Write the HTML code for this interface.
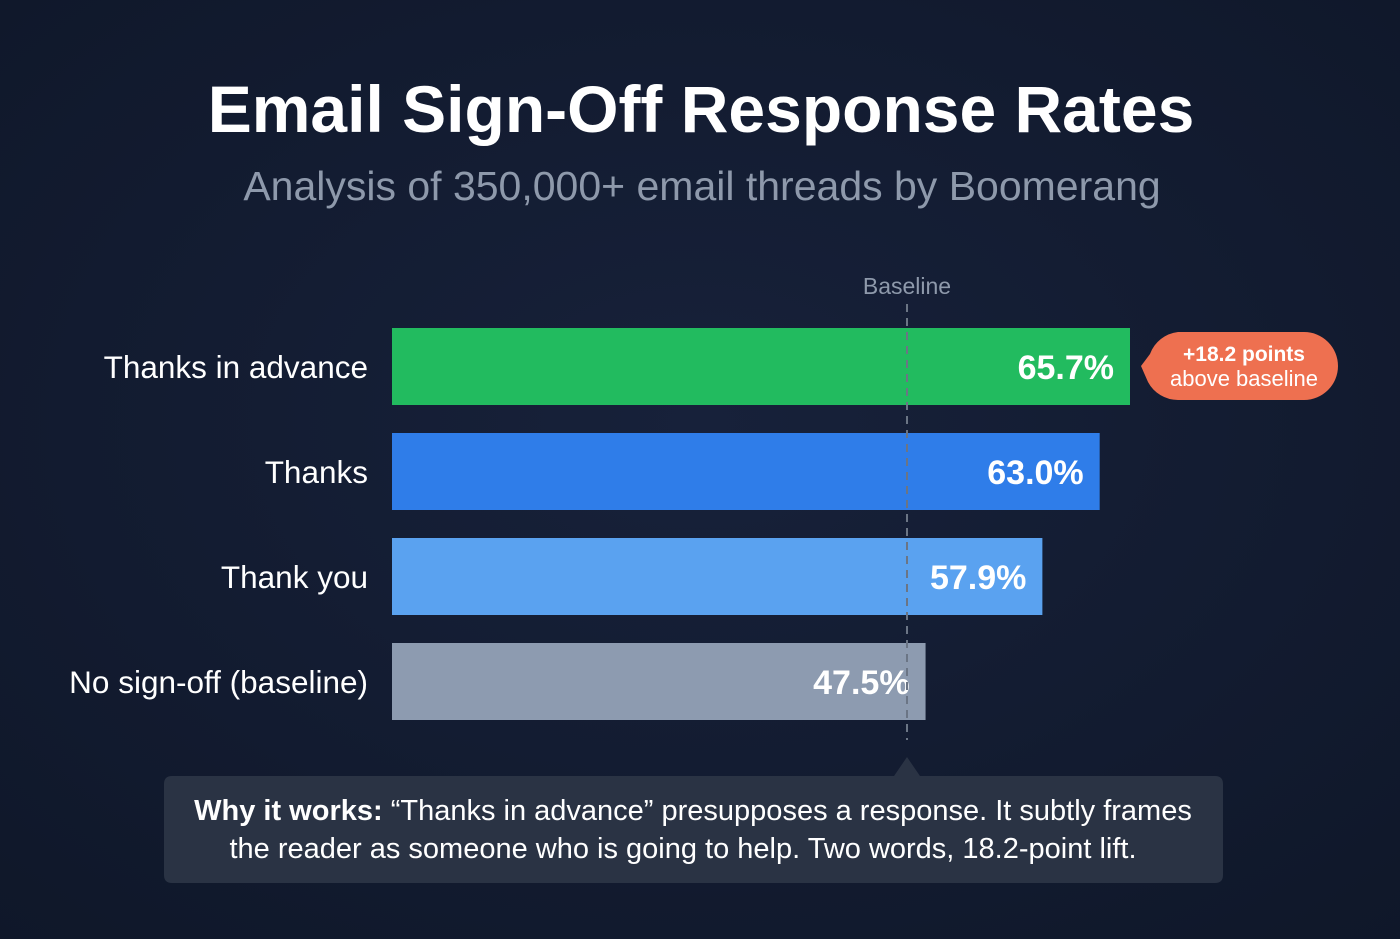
<!DOCTYPE html>
<html><head><meta charset="utf-8"><style>
html,body{margin:0;padding:0;background:#121b2f;}
svg{display:block;font-family:"Liberation Sans",sans-serif;}
</style></head><body>
<svg id="chart" width="1400" height="939" viewBox="0 0 1400 939" xmlns="http://www.w3.org/2000/svg">
<defs>
<radialGradient id="bg" cx="50%" cy="45%" r="75%"><stop offset="0" stop-color="#17213a"/><stop offset="1" stop-color="#0f1729"/></radialGradient>
</defs>
<rect width="1400" height="939" fill="url(#bg)"/>
<text x="701" y="132" text-anchor="middle" font-size="66" font-weight="bold" fill="#ffffff">Email Sign-Off Response Rates</text>
<text x="702" y="200" text-anchor="middle" font-size="41" fill="#8e99ab">Analysis of 350,000+ email threads by Boomerang</text>
<g id="bars"></g>
<text x="907" y="294" text-anchor="middle" font-size="23" fill="#8e99ab">Baseline</text>
<line x1="907" y1="304" x2="907" y2="740" stroke="#6b7585" stroke-width="2" stroke-dasharray="8,6"/>
<g>
<path d="M1178,332 H1304 A34,34 0 0 1 1304,400 H1178 A34,34 0 0 1 1148,382 L1141,366 L1150,354 A34,34 0 0 1 1178,332 Z" fill="#ee7050"/>
<text x="1244" y="361" text-anchor="middle" font-size="21" font-weight="bold" fill="#fff">+18.2 points</text>
<text x="1244" y="386" text-anchor="middle" font-size="22" fill="#fff">above baseline</text>
</g>
<g>
<path d="M172,776 H894 L907,757 L920,776 H1215 Q1223,776 1223,784 V875 Q1223,883 1215,883 H172 Q164,883 164,875 V784 Q164,776 172,776 Z" fill="#2a3344"/>
<text x="693" y="820" text-anchor="middle" font-size="29" fill="#ffffff"><tspan font-weight="bold">Why it works:</tspan> “Thanks in advance” presupposes a response. It subtly frames</text>
<text x="683" y="858" text-anchor="middle" font-size="29" fill="#ffffff">the reader as someone who is going to help. Two words, 18.2-point lift.</text>
</g>
</svg>
<script>
const categories=["Thanks in advance","Thanks","Thank you","No sign-off (baseline)"];
const values=[65.7,63.0,57.9,47.5];
const colors=["#22bb5f","#2f7de9","#5aa2f0","#8d9bb0"];
const x0=392, pxPer=(1130-392)/65.7;
function xScale(v){return x0+v*pxPer;}
function yScale(i){return 328+i*105;}
const g=document.getElementById('bars');
const ns="http://www.w3.org/2000/svg";
categories.forEach((c,i)=>{
  const r=document.createElementNS(ns,'rect');
  r.setAttribute('x',x0);r.setAttribute('y',yScale(i));
  r.setAttribute('width',xScale(values[i])-x0);r.setAttribute('height',77);
  r.setAttribute('fill',colors[i]);
  
  
  g.appendChild(r);
  const l=document.createElementNS(ns,'text');
  l.setAttribute('x',368);l.setAttribute('y',yScale(i)+50);
  l.setAttribute('text-anchor','end');l.setAttribute('font-size','31.5');l.setAttribute('fill','#fff');
  l.textContent=c;
  
  
  g.appendChild(l);
  const v=document.createElementNS(ns,'text');
  v.setAttribute('x',xScale(values[i])-16);v.setAttribute('y',yScale(i)+51);
  v.setAttribute('text-anchor','end');v.setAttribute('font-size','34');v.setAttribute('font-weight','bold');v.setAttribute('fill','#fff');
  v.textContent=values[i].toFixed(1)+'%';
  
  
  g.appendChild(v);
});
</script>
</body></html>
